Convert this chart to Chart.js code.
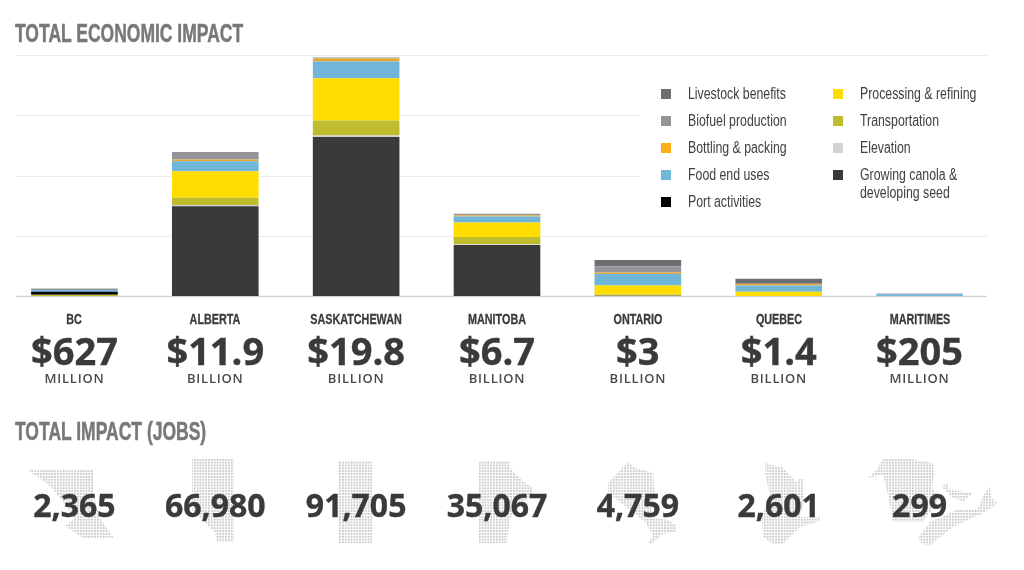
<!DOCTYPE html>
<html>
<head>
<meta charset="utf-8">
<title>Total economic impact</title>
<script src="https://cdn.jsdelivr.net/npm/chart.js@4/dist/chart.umd.min.js"></script>
<style>
html, body { margin: 0; padding: 0; background: #fff; overflow: hidden; }
#page { position: relative; width: 1024px; height: 570px; overflow: hidden; font-family: "Open Sans", sans-serif; color: #3a3a3a; }
#chart { position: absolute; left: 0; top: 0; }
#maps { position: absolute; left: 0; top: 0; }
/* no condensed face installed, so squeeze Liberation Sans horizontally */
.heading { position: absolute; left: 15px; font: bold 25px/30px "Liberation Sans", sans-serif; color: #77787b; white-space: nowrap; transform: scaleX(0.7); transform-origin: left center; -webkit-text-stroke: 0.5px #77787b; }
.name, .amount, .unit, .jobs { position: absolute; width: 140px; text-align: center; white-space: nowrap; }
.name { top: 309px; font: bold 15px/20px "Liberation Sans", sans-serif; transform: scaleX(0.72); -webkit-text-stroke: 0.3px #3a3a3a; }
.amount { top: 324px; font-weight: 700; font-size: 38px; line-height: 52px; -webkit-text-stroke: 0.4px #3a3a3a; }
.unit { top: 368px; font-weight: 600; font-size: 13px; line-height: 20px; letter-spacing: 0.8px; color: #4a4a4c; }
.jobs { top: 483px; font-weight: 700; font-size: 32px; line-height: 44px; -webkit-text-stroke: 0.4px #3a3a3a; }
#legend { position: absolute; left: 640px; top: 70px; width: 347px; height: 155px; background: #fff; }
.key { position: absolute; font: 16px/18px "Liberation Sans", sans-serif; color: #414042; white-space: nowrap; transform: scaleX(0.77); transform-origin: left top; }
.swatch { position: absolute; width: 10px; height: 10px; }
</style>
</head>
<body>
<div id="page">
    <canvas id="chart" width="1024" height="345"></canvas>
    <svg id="maps" width="1024" height="570" xmlns="http://www.w3.org/2000/svg">
        <defs>
            <pattern id="dots" x="0" y="0" width="2.85" height="2.85" patternUnits="userSpaceOnUse">
                <rect width="1.8" height="1.8" fill="#c6c7c9"></rect>
            </pattern>
        </defs>
    </svg>
    <div class="heading" style="top:18px">TOTAL ECONOMIC IMPACT</div>
    <div class="heading" style="top:416px">TOTAL IMPACT (JOBS)</div>
    <div id="legend"></div>
</div>
<script>
// --- Data ---
const provinces = ['BC', 'ALBERTA', 'SASKATCHEWAN', 'MANITOBA', 'ONTARIO', 'QUEBEC', 'MARITIMES'];
const amounts = ['$627', '$11.9', '$19.8', '$6.7', '$3', '$1.4', '$205'];
const units = ['MILLION', 'BILLION', 'BILLION', 'BILLION', 'BILLION', 'BILLION', 'MILLION'];
const jobs = ['2,365', '66,980', '91,705', '35,067', '4,759', '2,601', '299'];
const gridTicks = [0, 5, 10, 15, 20];

// $ billions
const growing = [0, 7.45, 13.2, 4.24, 0.02, 0, 0];
const elevation = [0, 0.1, 0.12, 0.06, 0, 0, 0];
const transportation = [0.1, 0.6, 1.25, 0.6, 0.1, 0, 0];
const processing = [0, 2.2, 3.5, 1.2, 0.75, 0.36, 0];
const port = [0.25, 0, 0, 0, 0, 0, 0];
const food = [0.14, 0.83, 1.4, 0.5, 0.95, 0.52, 0.14];
const bottling = [0, 0.14, 0.25, 0.1, 0.12, 0.13, 0];
const biofuel = [0.14, 0.64, 0.08, 0.12, 0.52, 0, 0.065];
const livestock = [0, 0, 0, 0, 0.53, 0.42, 0];

const series = [
    { label: 'Growing canola & developing seed', data: growing, color: '#3a3a3a' },
    { label: 'Elevation', data: elevation, color: '#d1d3d4' },
    { label: 'Transportation', data: transportation, color: '#bfbd2e' },
    { label: 'Processing & refining', data: processing, color: '#ffdd00' },
    { label: 'Port activities', data: port, color: '#000000' },
    { label: 'Food end uses', data: food, color: '#6fb6d8' },
    { label: 'Bottling & packing', data: bottling, color: '#e0a93a' },
    { label: 'Biofuel production', data: biofuel, color: '#939598' },
    { label: 'Livestock benefits', data: livestock, color: '#6d6e71' }
];

// --- Grid lines are inset from the category bands, so draw them here ---
const insetGrid = {
    id: 'insetGrid',
    beforeDatasetsDraw(chart) {
        const ctx = chart.ctx;
        const y = chart.scales.y;
        gridTicks.forEach(t => {
            const py = Math.round(y.getPixelForValue(t)) + 0.5;
            ctx.strokeStyle = t === 0 ? '#d4d4d6' : '#ececec';
            ctx.lineWidth = t === 0 ? 1.6 : 1.2;
            ctx.beginPath();
            ctx.moveTo(16, py);
            ctx.lineTo(987, py);
            ctx.stroke();
        });
    }
};

const chart = new Chart(document.getElementById('chart').getContext('2d'), {
    type: 'bar',
    data: {
        labels: provinces,
        datasets: series.map(s => ({
            label: s.label,
            data: s.data,
            backgroundColor: s.color,
            barPercentage: 0.615,
            categoryPercentage: 1
        }))
    },
    options: {
        responsive: false,
        animation: false,
        layout: { padding: { left: 4, right: 34, top: 55, bottom: 0 } },
        plugins: { legend: { display: false }, tooltip: { enabled: false } },
        scales: {
            x: {
                stacked: true,
                afterFit(scale) { scale.height = 49; },
                grid: { display: false },
                border: { display: false },
                ticks: { display: false }
            },
            y: { stacked: true, display: false, min: 0, max: 20 }
        }
    },
    plugins: [insetGrid]
});

// --- Text under the bars, centred on the category positions ---
const page = document.getElementById('page');
function addText(cls, text, centre) {
    const el = document.createElement('div');
    el.className = cls;
    el.textContent = text;
    el.style.left = (centre - 70) + 'px';
    page.appendChild(el);
}

// --- Dot maps behind the job counts ---
const provinceShapes = [
    [[28,470],[93,470],[93,495],[100,518],[114,538],[83,538],[65,526],[75,518],[52,488],[38,477],[35,476]],
    [[192,459],[234,459],[234,542],[217,542],[215,533],[203,520],[192,510]],
    [[338,461],[372,461],[372,543],[338,543]],
    [[479,461],[510,461],[510,468],[522,480],[533,488],[533,492],[510,518],[507,543],[479,543]],
    [[629,462],[633,467],[653,473],[655,493],[650,517],[668,520],[676,525],[676,532],[662,534],[656,540],[652,544],[648,543],[653,535],[645,522],[633,512],[608,493],[608,483],[623,467]],
    [[765,462],[770,465],[782,467],[790,475],[797,483],[800,478],[804,480],[804,502],[800,517],[820,517],[820,521],[800,527],[792,535],[783,544],[773,544],[763,537],[762,518],[770,495],[765,475]],
    [[883,459],[910,459],[933,463],[934,475],[932,488],[940,498],[923,522],[893,522],[888,495],[883,475],[867,478],[875,472]],
    [[942,487],[947,483],[950,490],[973,493],[963,502],[952,497]],
    [[918,538],[930,522],[957,510],[977,510],[985,492],[990,487],[991,498],[998,503],[983,513],[953,527],[930,545],[922,544]]
];
const svg = document.getElementById('maps');
provinceShapes.forEach(shape => {
    const poly = document.createElementNS('http://www.w3.org/2000/svg', 'polygon');
    poly.setAttribute('points', shape.map(p => p.join(',')).join(' '));
    poly.setAttribute('fill', 'url(#dots)');
    svg.appendChild(poly);
});

provinces.forEach((p, i) => {
    const cx = chart.scales.x.getPixelForValue(i);
    addText('name', p, cx);
    addText('amount', amounts[i], cx);
    addText('unit', units[i], cx);
    addText('jobs', jobs[i], cx);
});

// --- Legend ---
const legendRows = [
    ['Livestock benefits', 688, 85], ['Biofuel production', 688, 112], ['Bottling & packing', 688, 139],
    ['Food end uses', 688, 166], ['Port activities', 688, 193],
    ['Processing & refining', 860, 85], ['Transportation', 860, 112], ['Elevation', 860, 139],
    ['Growing canola & developing seed', 860, 166]
];
const swatchColors = { 'Bottling & packing': '#fdae19' };
const legend = document.getElementById('legend');
legendRows.forEach(([label, x, y]) => {
    const s = series.find(d => d.label === label);
    const swatch = document.createElement('div');
    swatch.className = 'swatch';
    swatch.style.left = (x - 27 - 640) + 'px';
    swatch.style.top = (y + 4 - 70) + 'px';
    swatch.style.background = swatchColors[label] || s.color;
    legend.appendChild(swatch);

    const el = document.createElement('div');
    el.className = 'key';
    el.style.left = (x - 640) + 'px';
    el.style.top = (y - 70) + 'px';
    if (label.startsWith('Growing')) {
        el.appendChild(document.createTextNode('Growing canola &'));
        el.appendChild(document.createElement('br'));
        el.appendChild(document.createTextNode('developing seed'));
    } else {
        el.textContent = label;
    }
    legend.appendChild(el);
});
</script>
</body>
</html>
